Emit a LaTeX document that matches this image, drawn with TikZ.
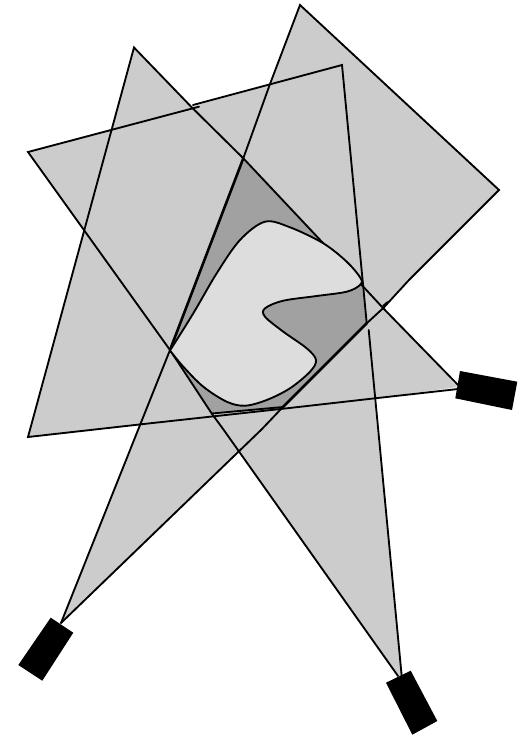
\documentclass[tikz,border=0pt]{standalone}
\tikzset{
  plane/.style={fill=planegray,draw=none},
  edge/.style={draw=black,line width=1.85pt,line cap=round,line join=miter},
  heavy/.style={draw=black,line width=2.6pt,line cap=round},
  sensor/.style={fill=black,draw=none},
}
\definecolor{planegray}{gray}{0.80}
\definecolor{hullgray}{gray}{0.63}
\definecolor{shapegray}{gray}{0.865}
\begin{document}
\begin{tikzpicture}[x=1pt,y=-1pt]
\useasboundingbox (0,0) rectangle (522,737);
% planes
\fill[plane] (61,623) -- (150,400) -- (170,350) -- (243.3,158) -- (300,5) -- (499,190) -- (409,280) -- (383.3,307.3) -- (366.7,323.3) -- (281.7,408.3) -- (261.7,429.3) -- cycle;
\fill[plane] (401.7,676) -- (398,676) -- (223.3,429.3) -- (211.7,413.5) -- (170,350) -- (28,152) -- (342,65) -- (366.7,323) -- cycle;
\fill[plane] (458,387) -- (383.3,308.3) -- (361.7,285) -- (323,243) -- (243.3,158.3) -- (191.7,107.3) -- (134,47.5) -- (28,437) -- (150,423.3) -- (285,408.5) -- (375,398.3) -- cycle;
% visual hull
\fill[hullgray] (243.3,158.3) -- (323,243) -- (361.7,285) -- (366.7,323.3) -- (281.7,408.3) -- (211.7,413.5) -- (170,350) -- cycle;
% outlines of the three planes
\draw[edge] (61,623) -- (150,400) -- (170,350);
\draw[heavy] (170,350) -- (243.3,158.3);
\draw[edge] (243.3,158.3) -- (270,84) -- (300,5) -- (499,190) -- (409,280) -- (383.3,308);
\draw[edge] (383,306) -- (387.7,302);
\draw[edge] (383.3,308) -- (366.7,323.3);
\draw[heavy] (366.7,323.3) -- (281.7,408.3);
\draw[edge] (281.7,408.3) -- (261.7,429.3) -- (61,623);
\draw[edge] (401.7,676) -- (368.7,330);
\draw[edge] (366.7,323) -- (342,65) -- (193,105);
\draw[edge] (199,106.7) -- (28,152) -- (170,350) -- (211.7,413.5) -- (223.3,429.3) -- (398,676);
\draw[edge] (458,385) -- (383.3,308.3) -- (361.7,285) -- (323,243) -- (243.3,158.3) -- (191.7,107.3) -- (134,47.5) -- (28,437) -- (150,423.3) -- (285,408.5) -- (375,398.3) -- (458,389);
\draw[edge] (211.7,413.5) -- (283,407);
% object
\filldraw[fill=shapegray,draw=black,line width=1.85pt,line join=miter,smooth,tension=0.55] plot coordinates {
 (170,350.5) (193.3,313.3) (216.7,273.3) (240,240) (265,221.7) (290,227.3) (323.3,243.3) (346.7,261.7) (360.7,278.3) (360,285) (346.7,291.7) (316.7,296) (283.3,300.7) (265,308.3) (265,316.7) (283.3,331.7) (306.7,348.3) (316,360) (310,371.7) (290,388.3) (266.7,400) (245,405.7) (226.7,401.7) (203.3,386.7) (183.3,366.7) (170,350.5)} -- cycle;
% sensors
\fill[sensor] (50.7,617.7) -- (73.3,632.7) -- (42.3,680.7) -- (18.3,665) -- cycle;
\fill[sensor] (410.7,670.7) -- (437.3,721) -- (412.3,734.7) -- (386,682.7) -- cycle;
\fill[sensor] (460,371) -- (517.3,381.7) -- (512,410) -- (455.3,398.3) -- cycle;
\end{tikzpicture}
\end{document}
